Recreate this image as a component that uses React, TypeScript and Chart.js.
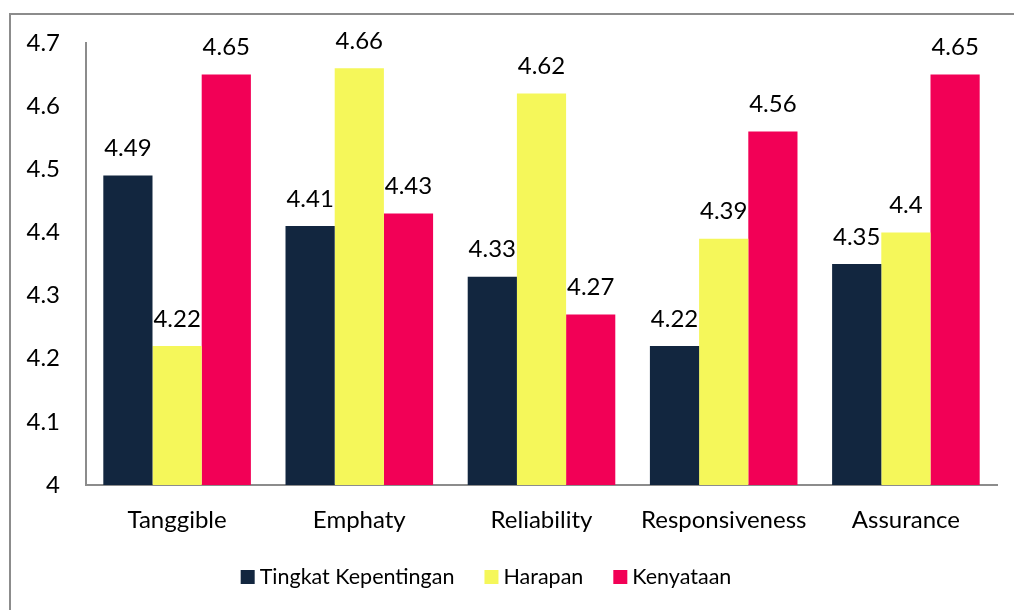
import React, { useEffect, useRef } from "react";
import { Chart, registerables } from "chart.js";

Chart.register(...registerables);

const categories = ["Tanggible", "Emphaty", "Reliability", "Responsiveness", "Assurance"];
const tingkatKepentingan = [4.49, 4.41, 4.33, 4.22, 4.35];
const harapan = [4.22, 4.66, 4.62, 4.39, 4.4];
const kenyataan = [4.65, 4.43, 4.27, 4.56, 4.65];
const seriesNames = ["Tingkat Kepentingan", "Harapan", "Kenyataan"];
const colors = ["#12263F", "#F5F75A", "#F20056"];

const FONT = "Lato, 'Open Sans', sans-serif";
const FS = 24;
const LEGEND_FS = 21.5;

const labelPlugin = {
  id: "barLabels",
  afterDatasetsDraw(chart: any) {
    const ctx = chart.ctx;
    ctx.save();
    ctx.font = `${FS}px ${FONT}`;
    ctx.fillStyle = "#000";
    ctx.textAlign = "center";
    ctx.textBaseline = "middle";
    chart.data.datasets.forEach((ds: any, i: number) => {
      const meta = chart.getDatasetMeta(i);
      meta.data.forEach((el: any, j: number) => {
        ctx.fillText(String(ds.data[j]), el.x, el.y - 27);
      });
    });
    ctx.restore();
  },
};

const legendPlugin = {
  id: "customLegend",
  afterDraw(chart: any) {
    const ctx = chart.ctx;
    ctx.save();
    ctx.font = `${LEGEND_FS}px ${FONT}`;
    ctx.textBaseline = "middle";
    ctx.textAlign = "left";
    const box = 14;
    const gapText = 5;
    const gapItem = 30;
    const widths = chart.data.datasets.map((ds: any) => ctx.measureText(ds.label).width);
    const total = widths.reduce((a: number, w: number) => a + box + gapText + w, 0) + gapItem * (widths.length - 1);
    let x = 486 - total / 2;
    const cy = 577;
    chart.data.datasets.forEach((ds: any, i: number) => {
      ctx.fillStyle = ds.backgroundColor;
      ctx.fillRect(x, cy - box / 2, box, box);
      ctx.fillStyle = "#000";
      ctx.fillText(ds.label, x + box + gapText, cy);
      x += box + gapText + widths[i] + gapItem;
    });
    ctx.restore();
  },
};

export default function App() {
  const ref = useRef<HTMLCanvasElement>(null);
  useEffect(() => {
    if (!ref.current) return;
    const chart = new Chart(ref.current, {
      type: "bar",
      data: {
        labels: categories,
        datasets: [tingkatKepentingan, harapan, kenyataan].map((d, i) => ({
          label: seriesNames[i],
          data: d,
          backgroundColor: colors[i],
          borderWidth: 0,
          barPercentage: 1,
          categoryPercentage: 0.81,
        })),
      },
      options: {
        animation: false,
        responsive: false,
        maintainAspectRatio: false,
        layout: { padding: { left: 0, top: 43, right: 17, bottom: 65 } },
        plugins: {
          tooltip: { enabled: false },
          legend: { display: false },
        },
        scales: {
          x: {
            grid: { display: false, drawTicks: false },
            border: { display: true, color: "#8c8c8c", width: 2 },
            ticks: { font: { family: FONT, size: FS }, color: "#000", padding: 21 },
            afterFit: (s: any) => { s.height = 60; },
          },
          y: {
            min: 4,
            max: 4.7,
            grid: { display: false, drawTicks: false },
            border: { display: true, color: "#8c8c8c", width: 2 },
            ticks: {
              stepSize: 0.1,
              font: { family: FONT, size: FS },
              color: "#000",
              padding: 26,
              callback: (v: any) => String(Math.round(Number(v) * 10) / 10),
            },
            afterFit: (s: any) => { s.width = 86; },
          },
        },
      },
      plugins: [labelPlugin, legendPlugin],
    });
    return () => chart.destroy();
  }, []);
  return (
    <div style={{ position: "absolute", left: 0, top: 0, width: 1014, height: 610, background: "#fff", overflow: "hidden" }}>
      <div style={{ position: "absolute", left: 9, top: 13, width: 1100, height: 700, border: "2px solid #8c8c8c", boxSizing: "border-box" }} />
      <canvas ref={ref} width={1014} height={610} style={{ position: "absolute", left: 0, top: 0 }} />
    </div>
  );
}
